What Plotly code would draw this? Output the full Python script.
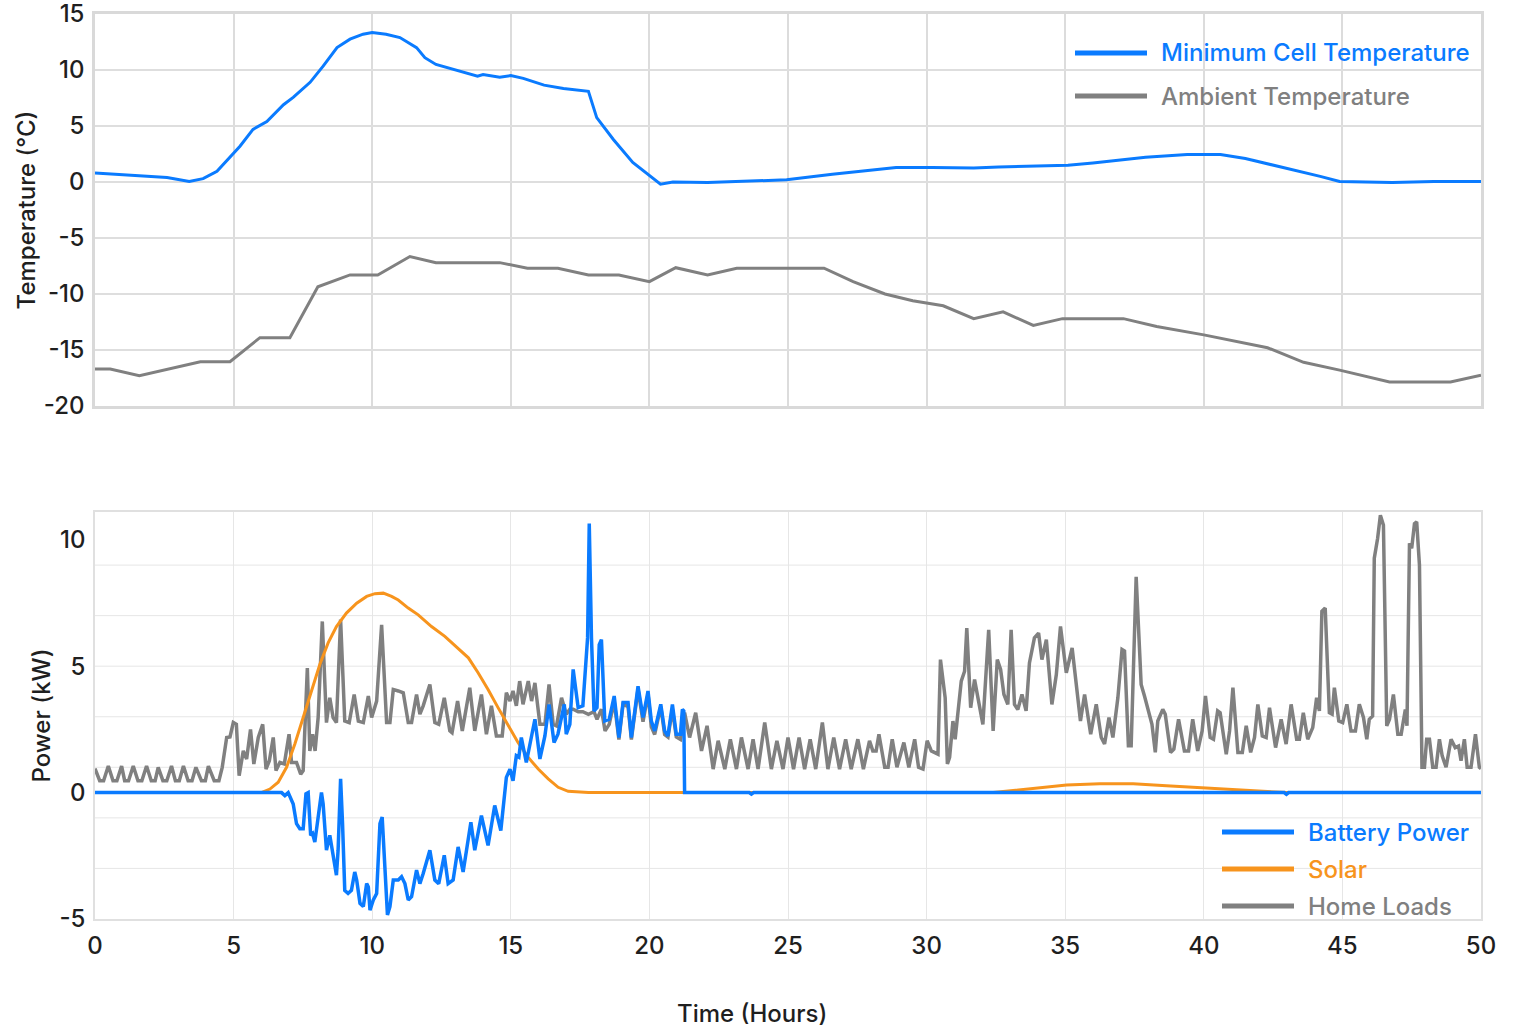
import plotly.graph_objects as go

# ---------------- Data ----------------
# Top panel: temperatures (°C) vs time (hours)
cell_t = [0, 1.7, 2.6, 3.4, 3.9, 4.4, 4.87, 5.23, 5.7, 6.2, 6.8, 7.15, 7.76, 8.23, 8.73, 9.2, 9.67, 10.0,
          10.5, 11.0, 11.6, 11.9, 12.3, 13.3, 13.8, 14.0, 14.4, 14.6, 15.0, 15.45, 16.2, 16.9, 17.8, 18.1,
          18.7, 19.4, 20.4, 20.85, 22.1, 23.3, 24.95, 26.6, 27.8, 28.9, 30.2, 31.7, 32.6, 35.1, 36.0, 37.9,
          39.4, 40.6, 41.5, 42.9, 44.2, 44.9, 46.8, 48.3, 50]
cell_temp = [0.8, 0.5, 0.4, 0.05, 0.3, 0.95, 2.2, 3.2, 4.7, 5.4, 6.9, 7.55, 8.9, 10.35, 12.0, 12.75, 13.2, 13.35,
             13.2, 12.9, 12.0, 11.1, 10.5, 9.8, 9.45, 9.6, 9.45, 9.35, 9.5, 9.25, 8.65, 8.35, 8.1, 5.75,
             3.8, 1.75, -0.2, 0.0, -0.05, 0.05, 0.2, 0.7, 1.0, 1.3, 1.3, 1.25, 1.35, 1.5, 1.7, 2.2,
             2.45, 2.45, 2.1, 1.3, 0.5, 0.05, -0.05, 0.05, 0.05]

amb_t = [0, 0.55, 1.6, 2.8, 3.8, 4.87, 5.47, 5.95, 7.03, 8.04, 9.2, 10.2, 11.36, 12.3, 14.6, 15.6, 16.7, 17.8,
         18.9, 20.0, 20.95, 22.1, 23.15, 26.3, 27.35, 28.5, 29.5, 30.6, 31.7, 32.76, 33.85, 34.9, 37.1, 38.3,
         40.0, 42.3, 43.6, 44.9, 46.7, 48.9, 50]
amb_temp = [-16.7, -16.7, -17.3, -16.6, -16.05, -16.05, -14.9, -13.9, -13.9, -9.35, -8.3, -8.3, -6.65, -7.2,
            -7.2, -7.7, -7.7, -8.3, -8.3, -8.9, -7.65, -8.3, -7.7, -7.7, -8.9, -10.0, -10.6, -11.05, -12.2,
            -11.6, -12.8, -12.2, -12.2, -12.9, -13.65, -14.8, -16.1, -16.8, -17.85, -17.85, -17.25]

# Bottom panel: power (kW) vs time (hours)
solar_t = [0, 6.0, 6.31, 6.61, 6.91, 7.21, 7.51, 7.81, 8.11, 8.41, 8.71, 9.07, 9.44, 9.8, 10.1, 10.4, 10.7,
           10.94, 11.3, 11.66, 12.14, 12.62, 13.1, 13.47, 13.82, 14.18, 14.54, 14.9, 15.26, 15.63, 15.99,
           16.35, 16.71, 17.07, 17.43, 17.8, 32.4, 33.85, 35.05, 36.25, 37.45, 38.65, 40.1, 41.65, 43.0, 50]
solar_kw = [0, 0, 0.14, 0.41, 1.0, 1.92, 2.97, 4.02, 5.07, 5.92, 6.57, 7.1, 7.49, 7.76, 7.87, 7.89, 7.76,
            7.62, 7.3, 7.03, 6.57, 6.18, 5.72, 5.33, 4.74, 4.08, 3.36, 2.64, 1.98, 1.39, 0.93,
            0.54, 0.21, 0.05, 0.02, 0, 0, 0.15, 0.3, 0.35, 0.35, 0.27, 0.18, 0.08, 0, 0]

batt_t = [0, 6.73, 6.85, 6.97, 7.15, 7.27, 7.39, 7.51, 7.61, 7.69, 7.78, 7.85, 7.93, 8.03, 8.17, 8.23, 8.35,
          8.47, 8.59, 8.71, 8.77, 8.86, 8.93, 9.01, 9.13, 9.25, 9.37, 9.44, 9.56, 9.68, 9.8, 9.86, 9.92,
          10.04, 10.16, 10.28, 10.36, 10.46, 10.55, 10.64, 10.76, 10.94, 11.06, 11.18, 11.3, 11.42, 11.6,
          11.72, 11.84, 12.08, 12.26, 12.4, 12.6, 12.74, 12.92, 13.1, 13.28, 13.56, 13.7, 13.94, 14.18,
          14.42, 14.64, 14.84, 14.97, 15.08, 15.2, 15.29, 15.38, 15.56, 15.75, 15.87, 16.05, 16.23, 16.38,
          16.56, 16.7, 16.93, 17.0, 17.13, 17.25, 17.43, 17.6, 17.77, 17.83, 17.91, 18.0, 18.11, 18.19,
          18.27, 18.39, 18.55, 18.73, 18.9, 19.05, 19.23, 19.35, 19.59, 19.77, 19.95, 20.07, 20.19, 20.41,
          20.55, 20.67, 20.83, 20.97, 21.12, 21.19, 21.24, 21.27, 23.6, 23.68, 23.76, 42.9, 42.98, 43.06, 50]
batt_kw = [0, 0, -0.12, 0, -0.45, -1.23, -1.43, -1.43, -0.05, 0, -1.69, -1.62, -1.96, -1.23, 0, -0.45, -2.28,
           -1.69, -2.55, -3.27, -2.28, 0.54, -1.23, -3.87, -3.99, -3.87, -3.14, -3.46, -4.38, -4.51, -3.6, -3.73,
           -4.65, -4.25, -3.99, -1.23, -0.97, -3.07, -4.84, -4.51, -3.46, -3.46, -3.33, -3.6, -4.25, -4.12,
           -3.07, -3.6, -3.2, -2.28, -3.46, -3.6, -2.48, -3.6, -3.46, -2.15, -3.14, -1.17, -2.28, -0.91, -2.09,
           -0.51, -1.5, 0.6, 0.93, 0.47, 1.46, 1.4, 2.18, 1.19, 2.18, 2.9, 1.33, 2.24, 3.49,
           1.98, 2.31, 3.49, 2.31, 2.7, 4.87, 3.36, 3.43, 6.12, 10.64, 6.12, 3.23, 3.36, 5.85,
           6.05, 2.83, 2.9, 3.82, 2.18, 3.56, 3.56, 2.18, 4.21, 2.97, 4.02, 2.83, 2.44, 3.49,
           2.44, 2.24, 3.49, 2.31, 2.31, 3.29, 3.23, 0, 0, -0.06, 0, 0, -0.07, 0, 0]

load_t = [0, 0.17, 0.31, 0.48, 0.65, 0.79, 0.96, 1.07, 1.21, 1.38, 1.55, 1.69, 1.86, 2.03, 2.17, 2.28, 2.45,
          2.59, 2.76, 2.9, 3.04, 3.19, 3.36, 3.5, 3.64, 3.84, 3.98, 4.09, 4.3, 4.47, 4.59, 4.75, 4.87, 4.99,
          5.1, 5.2, 5.35, 5.47, 5.61, 5.73, 5.89, 6.05, 6.17, 6.29, 6.43, 6.53, 6.67, 6.83, 7.0, 7.09, 7.27,
          7.42, 7.51, 7.66, 7.75, 7.85, 7.94, 8.05, 8.2, 8.35, 8.47, 8.59, 8.71, 8.86, 9.01, 9.17, 9.35, 9.5,
          9.68, 9.86, 9.98, 10.16, 10.34, 10.52, 10.64, 10.76, 10.94, 11.12, 11.3, 11.42, 11.6, 11.72, 11.84,
          12.08, 12.26, 12.4, 12.6, 12.8, 12.88, 13.08, 13.25, 13.52, 13.7, 13.94, 14.12, 14.3, 14.48, 14.69,
          14.84, 14.97, 15.08, 15.2, 15.32, 15.44, 15.63, 15.75, 15.87, 16.05, 16.23, 16.38, 16.53, 16.65,
          16.83, 17.0, 17.13, 17.25, 17.43, 17.6, 17.8, 18.0, 18.11, 18.27, 18.4, 18.55, 18.73, 18.9, 19.05,
          19.23, 19.35, 19.59, 19.77, 19.95, 20.07, 20.19, 20.41, 20.55, 20.67, 20.83, 20.97, 21.12, 21.27,
          21.45, 21.67, 21.88, 22.08, 22.3, 22.48, 22.72, 22.92, 23.14, 23.32, 23.56, 23.74, 23.92, 24.16,
          24.4, 24.6, 24.82, 25.0, 25.2, 25.4, 25.6, 25.8, 26.0, 26.24, 26.44, 26.65, 26.86, 27.08, 27.28,
          27.52, 27.72, 27.94, 28.06, 28.18, 28.28, 28.49, 28.61, 28.76, 28.93, 29.18, 29.36, 29.57, 29.71,
          29.87, 30.02, 30.17, 30.41, 30.5, 30.67, 30.75, 30.83, 30.95, 31.03, 31.25, 31.37, 31.45, 31.59,
          31.73, 31.89, 32.03, 32.24, 32.4, 32.55, 32.67, 32.79, 32.93, 33.05, 33.17, 33.29, 33.44, 33.59,
          33.71, 33.89, 34.04, 34.16, 34.32, 34.52, 34.68, 34.83, 35.04, 35.25, 35.4, 35.55, 35.7, 35.92,
          36.12, 36.3, 36.42, 36.58, 36.72, 36.9, 37.05, 37.14, 37.28, 37.38, 37.56, 37.74, 37.86, 37.98,
          38.13, 38.25, 38.34, 38.52, 38.61, 38.8, 38.92, 39.09, 39.3, 39.45, 39.6, 39.78, 39.94, 40.06,
          40.23, 40.35, 40.5, 40.59, 40.81, 40.93, 41.05, 41.23, 41.39, 41.53, 41.69, 41.83, 41.95, 42.11,
          42.25, 42.37, 42.59, 42.79, 42.97, 43.15, 43.35, 43.45, 43.59, 43.75, 43.93, 44.07, 44.17, 44.26,
          44.38, 44.47, 44.53, 44.63, 44.71, 44.87, 45.01, 45.16, 45.31, 45.47, 45.61, 45.76, 45.88, 45.97,
          46.09, 46.15, 46.27, 46.37, 46.48, 46.6, 46.7, 46.84, 47.0, 47.12, 47.27, 47.33, 47.42, 47.5, 47.6,
          47.68, 47.78, 47.87, 47.96, 48.04, 48.14, 48.26, 48.38, 48.5, 48.6, 48.74, 48.92, 49.07, 49.19,
          49.28, 49.4, 49.5, 49.64, 49.8, 49.94, 50]
load_kw = [0.95, 0.47, 0.47, 1.05, 0.47, 0.47, 1.05, 0.47, 0.47, 1.05, 0.47, 0.47, 1.05, 0.47, 0.47, 1.0, 0.47,
           0.47, 1.05, 0.47, 0.47, 1.05, 0.47, 0.47, 1.0, 0.47, 0.47, 1.05, 0.47, 0.47, 1.0, 2.18, 2.2, 2.77,
           2.7, 0.67, 1.65, 1.33, 2.5, 1.13, 2.18, 2.7, 0.93, 1.26, 2.18, 0.87, 1.19, 1.13, 2.31, 1.19, 1.19,
           0.73, 0.87, 4.93, 1.65, 2.31, 1.65, 2.97, 6.77, 2.77, 3.75, 2.97, 2.77, 6.84, 2.83, 2.77, 3.88, 2.83,
           2.77, 3.82, 2.97, 3.62, 6.64, 2.77, 2.77, 4.08, 4.02, 3.95, 2.77, 2.77, 3.88, 3.1, 3.43,
           4.28, 2.77, 2.7, 3.75, 2.44, 2.37, 3.62, 2.44, 4.15, 2.44, 3.88, 2.31, 3.43, 2.24, 2.24,
           3.95, 3.62, 4.02, 3.43, 4.41, 3.49, 4.41, 3.62, 4.34, 2.7, 2.7, 4.28, 2.7, 2.64,
           3.75, 3.1, 3.3, 3.3, 3.2, 3.2, 3.1, 3.2, 2.9, 3.3, 2.44, 2.7, 3.6, 2.1, 3.5,
           3.4, 2.1, 4.1, 2.8, 3.9, 2.6, 2.3, 3.4, 2.3, 2.2, 3.3, 2.2, 2.1, 3.16,
           2.18, 3.16, 1.65, 2.64, 0.93, 2.05, 0.93, 2.11, 0.93, 2.18, 0.93, 2.11, 0.93, 2.77,
           0.93, 2.05, 0.93, 2.18, 0.93, 2.18, 0.93, 2.11, 0.93, 2.77, 0.93, 2.18, 0.93, 2.11, 0.93,
           2.11, 0.93, 2.05, 1.65, 1.65, 2.31, 1.0, 1.0, 2.11, 1.0, 1.98, 1.0, 2.11, 1.0,
           0.93, 2.05, 1.65, 1.52, 5.26, 3.75, 1.13, 1.39, 2.83, 2.11, 4.41, 4.8, 6.51, 3.36,
           4.47, 3.43, 2.7, 6.44, 2.44, 5.26, 4.87, 3.88, 3.49, 6.44, 3.49, 3.29, 3.88, 3.23,
           5.13, 6.12, 6.31, 5.26, 6.05, 3.49, 4.67, 6.57, 4.74, 5.72, 4.28, 2.83, 3.88, 2.31,
           3.49, 2.18, 1.92, 2.97, 2.18, 3.75, 5.66, 5.6, 1.85, 1.85, 8.54, 4.28, 3.82, 3.36,
           2.7, 1.59, 2.83, 3.29, 3.1, 1.59, 1.72, 2.9, 1.65, 1.65, 2.9, 1.65, 2.44, 3.82,
           2.18, 2.11, 3.23, 3.16, 1.52, 2.44, 4.15, 1.59, 1.59, 2.64, 1.59, 2.18, 3.49, 2.24,
           2.18, 3.36, 1.78, 2.9, 1.92, 3.49, 2.11, 2.11, 3.16, 2.11, 2.57, 3.75, 3.23, 7.17,
           7.3, 4.8, 3.16, 3.1, 4.15, 2.83, 2.77, 3.49, 2.44, 2.44, 3.49, 2.97, 2.11, 2.9,
           3.03, 9.27, 10.05, 10.97, 10.58, 2.64, 2.9, 3.88, 2.31, 2.31, 3.29, 2.64, 9.86, 9.66, 10.64,
           10.71, 9.0, 1.0, 1.0, 2.11, 2.11, 1.0, 1.0, 2.11, 1.45, 1.0, 2.11, 1.78, 1.84,
           1.26, 2.11, 1.0, 1.0, 2.31, 1.0, 0.95]

x_ticks = [0, 5, 10, 15, 20, 25, 30, 35, 40, 45, 50]
temp_ticks = [-20, -15, -10, -5, 0, 5, 10, 15]
power_ticks = [-5, 0, 5, 10]
power_grid_vals = [-3, -1, 1, 3, 5, 7, 9]

# ---------------- Styles ----------------
BLUE = "#0A7BFF"
GRAY = "#808080"
ORANGE = "#F7941D"
FONT = "Inter"
TXT = "#1f1f1f"

fig = go.Figure()

fig.add_trace(go.Scatter(x=amb_t, y=amb_temp, mode="lines", name="Ambient Temperature",
                         line=dict(color=GRAY, width=3), xaxis="x", yaxis="y", showlegend=False))
fig.add_trace(go.Scatter(x=cell_t, y=cell_temp, mode="lines", name="Minimum Cell Temperature",
                         line=dict(color=BLUE, width=3), xaxis="x", yaxis="y", showlegend=False))

fig.add_trace(go.Scatter(x=load_t, y=load_kw, mode="lines", name="Home Loads",
                         line=dict(color=GRAY, width=3.5), xaxis="x2", yaxis="y2", showlegend=False))
fig.add_trace(go.Scatter(x=solar_t, y=solar_kw, mode="lines", name="Solar",
                         line=dict(color=ORANGE, width=3), xaxis="x2", yaxis="y2", showlegend=False))
fig.add_trace(go.Scatter(x=batt_t, y=batt_kw, mode="lines", name="Battery Power",
                         line=dict(color=BLUE, width=3.5), xaxis="x2", yaxis="y2", showlegend=False))

W, H = 1514, 1029
ML, MR, MT, MB = 95, 33, 14, 110
PW, PH = W - ML - MR, H - MT - MB


def px_x(px):
    return (px - ML) / PW


def px_y(py):
    return (H - MB - py) / PH


top_dom = [px_y(406), 1.0]
bot_dom = [0.0, px_y(512)]

tickfont = dict(family=FONT, size=24, color=TXT, weight=500)
titlefont = dict(family=FONT, size=24, color=TXT, weight=500)

fig.update_layout(
    width=W, height=H,
    margin=dict(l=ML, r=MR, t=MT, b=MB, autoexpand=False),
    paper_bgcolor="white", plot_bgcolor="white",
    font=dict(family=FONT, size=24, color=TXT),
    xaxis=dict(domain=[0, 1], anchor="y", range=[0, 50], tickvals=x_ticks, showticklabels=False,
               automargin=False,
               showgrid=True, gridcolor="#dcdcdc", gridwidth=1.5, zeroline=False,
               showline=True, mirror=True, linecolor="#d9d9d9", linewidth=2.5, ticks=""),
    yaxis=dict(domain=top_dom, anchor="x", range=[-20.001, 15.001], tickvals=temp_ticks,
               ticktext=[str(v) for v in temp_ticks], ticklabeloverflow="allow", automargin=False,
               showgrid=True, gridcolor="#dedede", gridwidth=1.5, zeroline=False,
               showline=True, mirror=True, linecolor="#d9d9d9", linewidth=2.5, ticks="",
               tickfont=tickfont, ticklabelstandoff=3,
               title=dict(text="Temperature (°C)", font=titlefont, standoff=2)),
    xaxis2=dict(domain=[0, 1], anchor="y2", range=[0, 50], tickvals=x_ticks,
                ticktext=[str(v) for v in x_ticks], ticklabeloverflow="allow", automargin=False,
                showgrid=True, gridcolor="#e6e6e6", gridwidth=1, zeroline=False,
                showline=True, mirror=True, linecolor="#e0e0e0", linewidth=1.5, ticks="",
                tickfont=tickfont, ticklabelstandoff=4),
    yaxis2=dict(domain=bot_dom, anchor="x2", range=[-5.001, 11.1], tickvals=power_ticks,
                ticktext=[str(v) for v in power_ticks], ticklabeloverflow="allow", automargin=False,
                showgrid=False, zeroline=False,
                showline=True, mirror=True, linecolor="#e0e0e0", linewidth=1.5, ticks="",
                tickfont=tickfont, ticklabelstandoff=3,
                title=dict(text="Power (kW)", font=titlefont, standoff=2)),
)

shapes = []
for v in power_grid_vals:
    shapes.append(dict(type="line", xref="x2 domain", yref="y2", x0=0, x1=1, y0=v, y1=v,
                       line=dict(color="#e6e6e6", width=1), layer="below"))

# Manual legends (long line symbols like the reference)
legend_top = [("Minimum Cell Temperature", BLUE, 53), ("Ambient Temperature", GRAY, 96)]
legend_bot = [("Battery Power", BLUE, 832), ("Solar", ORANGE, 869), ("Home Loads", GRAY, 906)]
annotations = []
for name, col, py in legend_top:
    shapes.append(dict(type="line", xref="paper", yref="paper", x0=px_x(1075), x1=px_x(1147),
                       y0=px_y(py), y1=px_y(py), line=dict(color=col, width=5)))
    annotations.append(dict(text=name, xref="paper", yref="paper", x=px_x(1159), y=px_y(py),
                            xanchor="left", yanchor="middle", showarrow=False,
                            font=dict(family=FONT, size=24, color=col, weight=500)))
for name, col, py in legend_bot:
    shapes.append(dict(type="line", xref="paper", yref="paper", x0=px_x(1222), x1=px_x(1294),
                       y0=px_y(py), y1=px_y(py), line=dict(color=col, width=5)))
    annotations.append(dict(text=name, xref="paper", yref="paper", x=px_x(1306), y=px_y(py),
                            xanchor="left", yanchor="middle", showarrow=False,
                            font=dict(family=FONT, size=24, color=col, weight=500)))

annotations.append(dict(text="Time (Hours)", xref="paper", yref="paper", x=px_x(752), y=px_y(1013),
                        xanchor="center", yanchor="middle", showarrow=False,
                        font=titlefont))

fig.update_layout(shapes=shapes, annotations=annotations)

fig.write_html("out.html", config={"displayModeBar": False},
               post_script="document.body.style.margin='0px';")
